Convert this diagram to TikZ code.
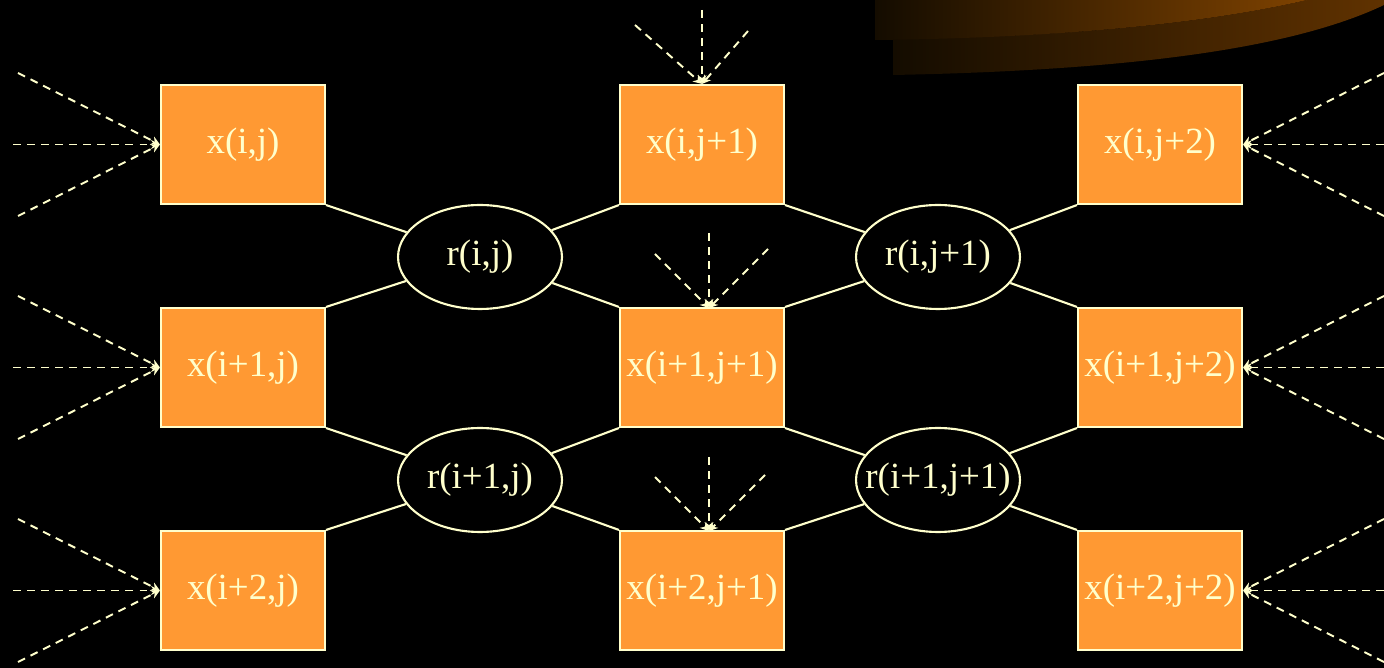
\documentclass[tikz,border=0pt]{standalone}
\usepackage{fontspec}
\setmainfont{Liberation Serif}
\usetikzlibrary{shapes.geometric,arrows.meta}
\definecolor{cream}{HTML}{FFFFCC}
\definecolor{boxorange}{HTML}{FF9933}
\definecolor{bandA}{HTML}{7E4200}
\definecolor{bandB}{HTML}{603200}
\definecolor{bandL}{HTML}{140C00}
\tikzset{
  xbox/.style={rectangle,fill=boxorange,draw=cream,line width=1.2pt,minimum width=3.28cm,minimum height=2.38cm,inner sep=0pt,text=cream,font=\fontsize{21}{25}\selectfont},
  rell/.style={ellipse,draw=cream,line width=1.2pt,minimum width=3.28cm,minimum height=2.08cm,inner sep=0pt,text=cream,font=\fontsize{21}{25}\selectfont},
  link/.style={draw=cream,line width=1.2pt},
  feed/.style={draw=cream,line width=1.1pt,dash pattern=on 4.5pt off 3.5pt,-{Stealth[length=5pt,width=5pt]}}
}
\begin{document}
\begin{tikzpicture}[x=0.02cm,y=-0.02cm]
\useasboundingbox (0,0) rectangle (1384,668);
\fill[black] (0,0) rectangle (1384,668);
% top-right decorative bands
\shade[left color=bandL,right color=bandB] (893,38) -- (893,75) .. controls (1150,70) and (1300,45) .. (1384,5) -- (1384,0) -- (1307,0) .. controls (1200,25) and (1050,38) .. (893,38) -- cycle;
\shade[left color=bandL,right color=bandA] (875,0) -- (875,40) .. controls (1050,38) and (1200,25) .. (1307,0) -- cycle;
% boxes
\node[xbox] (a11) at (243,144.5) {\makebox[0pt]{x(i,j)}};
\node[xbox] (a12) at (702,144.5) {\makebox[0pt]{x(i,j+1)}};
\node[xbox] (a13) at (1160,144.5) {\makebox[0pt]{x(i,j+2)}};
\node[xbox] (a21) at (243,367.5) {\makebox[0pt]{x(i+1,j)}};
\node[xbox] (a22) at (702,367.5) {\makebox[0pt]{x(i+1,j+1)}};
\node[xbox] (a23) at (1160,367.5) {\makebox[0pt]{x(i+1,j+2)}};
\node[xbox] (a31) at (243,590.5) {\makebox[0pt]{x(i+2,j)}};
\node[xbox] (a32) at (702,590.5) {\makebox[0pt]{x(i+2,j+1)}};
\node[xbox] (a33) at (1160,590.5) {\makebox[0pt]{x(i+2,j+2)}};
% ellipses
\node[rell] (r11) at (480,257) {\makebox[0pt]{r(i,j)}};
\node[rell] (r12) at (938,257) {\makebox[0pt]{r(i,j+1)}};
\node[rell] (r21) at (480,480) {\makebox[0pt]{r(i+1,j)}};
\node[rell] (r22) at (938,480) {\makebox[0pt]{r(i+1,j+1)}};
% links
\path[link] (a11.south east) -- (r11) (a21.north east) -- (r11) (a12.south west) -- (r11) (a22.north west) -- (r11);
\path[link] (a12.south east) -- (r12) (a22.north east) -- (r12) (a13.south west) -- (r12) (a23.north west) -- (r12);
\path[link] (a21.south east) -- (r21) (a31.north east) -- (r21) (a22.south west) -- (r21) (a32.north west) -- (r21);
\path[link] (a22.south east) -- (r22) (a32.north east) -- (r22) (a23.south west) -- (r22) (a33.north west) -- (r22);
% feed coordinates
\coordinate (l1a) at (18,73); \coordinate (l1b) at (13,144.5); \coordinate (l1c) at (18,216);
\coordinate (l2a) at (18,296); \coordinate (l2b) at (13,367.5); \coordinate (l2c) at (18,439);
\coordinate (l3a) at (18,519); \coordinate (l3b) at (13,590.5); \coordinate (l3c) at (18,662);
\coordinate (q1a) at (1384,73); \coordinate (q1b) at (1384,144.5); \coordinate (q1c) at (1384,216);
\coordinate (q2a) at (1384,296); \coordinate (q2b) at (1384,367.5); \coordinate (q2c) at (1384,439);
\coordinate (q3a) at (1384,519); \coordinate (q3b) at (1384,590.5); \coordinate (q3c) at (1384,662);
\coordinate (t1a) at (635,25); \coordinate (t1b) at (702,10); \coordinate (t1c) at (748,31);
\coordinate (t2a) at (655,254); \coordinate (t2b) at (709,233); \coordinate (t2c) at (768,249);
\coordinate (t3a) at (655,477); \coordinate (t3b) at (709,457); \coordinate (t3c) at (765,475);
\coordinate (m2) at (709,308); \coordinate (m3) at (709,531);
% feeds
\foreach \s in {l1a,l1b,l1c} \draw[feed] (\s) -- (a11.west);
\foreach \s in {l2a,l2b,l2c} \draw[feed] (\s) -- (a21.west);
\foreach \s in {l3a,l3b,l3c} \draw[feed] (\s) -- (a31.west);
\foreach \s in {q1a,q1b,q1c} \draw[feed] (\s) -- (a13.east);
\foreach \s in {q2a,q2b,q2c} \draw[feed] (\s) -- (a23.east);
\foreach \s in {q3a,q3b,q3c} \draw[feed] (\s) -- (a33.east);
\foreach \s in {t1a,t1b,t1c} \draw[feed] (\s) -- (a12.north);
\foreach \s in {t2a,t2b,t2c} \draw[feed] (\s) -- (m2);
\foreach \s in {t3a,t3b,t3c} \draw[feed] (\s) -- (m3);
\end{tikzpicture}
\end{document}
